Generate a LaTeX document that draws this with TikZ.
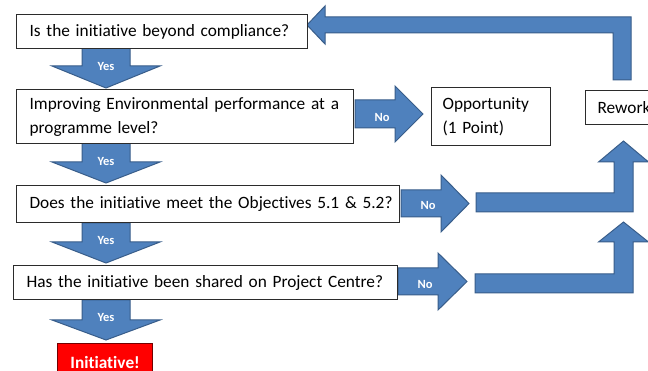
\documentclass[tikz,border=0pt]{standalone}
\usepackage{fontspec}
\setmainfont{Carlito}[Ligatures=NoCommon]
\usetikzlibrary{backgrounds}
\definecolor{arrowblue}{HTML}{4F81BD}
\definecolor{arrowedge}{HTML}{385D8A}
\definecolor{boxline}{HTML}{2B2B2B}
\definecolor{alarmred}{HTML}{FF0000}
\begin{document}
\begin{tikzpicture}[x=1pt,y=-1pt,
  box/.style={draw=boxline, line width=1.2pt, fill=white, anchor=north west,
    align=left, inner ysep=0pt, text=black,
    font=\fontsize{17.3}{24}\selectfont},
  goal/.style={draw=red!45!black, line width=1.2pt, fill=alarmred, anchor=north west,
    align=center, inner sep=0pt, text=white,
    font=\bfseries\fontsize{17.3}{20}\selectfont},
  blockarrow/.style={fill=arrowblue, draw=arrowedge, line width=1pt, line join=miter},
  tag/.style={text=white, inner sep=0pt, font=\bfseries\fontsize{12.5}{14}\selectfont}]

\useasboundingbox (0,0) rectangle (648,371);

% decision boxes
\node[box, text width=265pt, inner xsep=13pt, minimum height=34pt] (q1) at (16,14)
  {\mbox{Is the initiative beyond compliance?}};
\node[box, text width=311pt, inner xsep=13pt, minimum height=54pt] (q2) at (16,89)
  {\mbox{Improving Environmental performance at a}\\programme level?};
\node[box, text width=357pt, inner xsep=13pt, minimum height=37pt] (q3) at (16,185)
  {\mbox{Does the initiative meet the Objectives 5.1 \& 5.2?}};
\node[box, text width=358pt, inner xsep=13pt, minimum height=34pt] (q4) at (13,265)
  {\mbox{Has the initiative been shared on Project Centre?}};

% outcome boxes
\node[box, text width=97pt, inner xsep=11pt, minimum height=58pt] (opp) at (431,87)
  {Opportunity\\(1 Point)};
\node[box, text width=66pt, inner xsep=12pt, minimum height=34pt] (rework) at (585,90)
  {Rework};
\node[goal, minimum width=95pt, minimum height=38pt] (init) at (57,343) {Initiative!};

\begin{scope}[on background layer]
  \fill[white] (0,0) rectangle (648,371);

  % "Yes" arrows pointing down
  \draw[blockarrow] (82,48) -- (130,48) -- (130,66) -- (160,66) -- (106,88)
    -- (52,66) -- (82,66) -- cycle;
  \draw[blockarrow] (82,143) -- (130,143) -- (130,162) -- (160,162) -- (106,183)
    -- (52,162) -- (82,162) -- cycle;
  \draw[blockarrow] (82,223) -- (130,223) -- (130,242) -- (160,242) -- (106,263)
    -- (52,242) -- (82,242) -- cycle;
  \draw[blockarrow] (82,300) -- (130,300) -- (130,320) -- (160,320) -- (106,340)
    -- (52,320) -- (82,320) -- cycle;

  % "No" arrows pointing right
  \draw[blockarrow] (355,100) -- (395,100) -- (395,86) -- (423,114) -- (395,142)
    -- (395,128) -- (355,128) -- cycle;
  \draw[blockarrow] (401,190) -- (441,190) -- (441,175) -- (469,203.5) -- (441,232)
    -- (441,217) -- (401,217) -- cycle;
  \draw[blockarrow] (398,268) -- (438,268) -- (438,253) -- (467,281.5) -- (438,310)
    -- (438,295) -- (398,295) -- cycle;

  % bent arrows up towards Rework
  \draw[blockarrow] (476,193) -- (614,193) -- (614,162) -- (598.5,162) -- (623.5,141)
    -- (648.5,162) -- (633,162) -- (633,212) -- (476,212) -- cycle;
  \draw[blockarrow] (475,274) -- (614,274) -- (614,242) -- (598.5,242) -- (623.5,222)
    -- (648.5,242) -- (633,242) -- (633,293) -- (475,293) -- cycle;

  % feedback arrow from Rework back to the first question
  \draw[blockarrow] (613,80) -- (631,80) -- (631,17) -- (325,17) -- (325,6)
    -- (307,25) -- (325,44) -- (325,33) -- (613,33) -- cycle;
\end{scope}

% arrow labels
\node[tag] (y1) at (106,66) {Yes};
\node[tag] (y2) at (106,161) {Yes};
\node[tag] (y3) at (106,240) {Yes};
\node[tag] (y4) at (106,317) {Yes};
\node[tag] (n1) at (382,117) {No};
\node[tag] (n2) at (428,205) {No};
\node[tag] (n3) at (425,284) {No};
\end{tikzpicture}
\end{document}
